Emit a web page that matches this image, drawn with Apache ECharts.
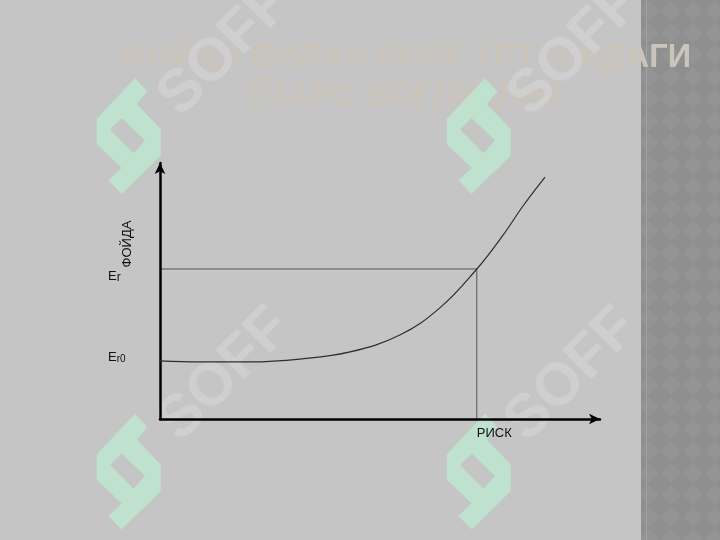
<!DOCTYPE html>
<html><head><meta charset="utf-8">
<script src="https://cdn.jsdelivr.net/npm/echarts@6/dist/echarts.min.js"></script>
<style>html,body{margin:0;padding:0;background:#c5c5c5}#c{width:720px;height:540px}</style>
</head><body><div id="c"></div>
<script>
const titleLines = ['ФОЙДА БИЛАН РИСК ЎРТАСИДАГИ', 'ЎЗАРО БОҒЛИҚЛИК'];
const riskX   = [0, 9.1, 20.5, 31.8, 43.2, 54.5, 63.6, 72.0, 78.0, 82.5, 87.5];
const profitY = [22.7, 22.3, 22.3, 23.4, 26.2, 32.8, 43.4, 58.6, 71.9, 83.2, 94.5];
const refRisk = 72.0;
const refProfit = 58.6;
const baseProfit = 22.7;
const xAxisLabel = 'РИСК';
const yAxisLabel = 'ФОЙДА';
const watermarkText = 'SOFF';

const FONT = 'Liberation Sans, Arial, sans-serif';

// pattern for right strip
const pc = document.createElement('canvas');
pc.width = 22; pc.height = 22;
const g = pc.getContext('2d');
g.fillStyle = '#8f8f8f'; g.fillRect(0, 0, 22, 22);
g.fillStyle = '#949494';
g.beginPath(); g.moveTo(11, 1); g.lineTo(21, 11); g.lineTo(11, 21); g.lineTo(1, 11); g.closePath(); g.fill();

// logo outline (relative)
const logoOuter = [[38.3,0],[50.7,13.3],[40,25.7],[64,50.7],[64,77.3],[51.7,89.7],[38.3,102.3],[25,115.7],[11.7,102.3],[25,89.7],[0,65.7],[0,40.7],[25,14]];
const logoHole = [[25,39.7],[48.3,62.3],[36.7,75],[13.3,51.3]];
function logo(x0, y0) {
  return [
    {type:'polygon', z:2, shape:{points: logoOuter.map(p => [p[0]+x0, p[1]+y0])}, style:{fill:'#bfe2cf'}},
    {type:'polygon', z:2, shape:{points: logoHole.map(p => [p[0]+x0, p[1]+y0])}, style:{fill:'#c5c5c5'}}
  ];
}
function soff(cx, cy) {
  return {type:'text', z:2, x:cx, y:cy, rotation: Math.PI/4,
    style:{text: watermarkText, font:'bold 60px ' + FONT, fill:'#cfcfcf', align:'center', verticalAlign:'middle'}};
}

const graphics = [
  {type:'rect', z:0, shape:{x:641, y:0, width:79, height:540}, style:{fill:{image: pc, repeat:'repeat'}}},
  {type:'rect', z:0, shape:{x:646, y:0, width:1, height:540}, style:{fill:'#a2a2a2'}},
  {type:'text', z:1, x:405, y:58, style:{text: titleLines[0], font:'bold 32.5px ' + FONT, fill:'#cbc4ba', align:'center', verticalAlign:'middle'}},
  {type:'text', z:1, x:405, y:97, style:{text: titleLines[1], font:'bold 32.5px ' + FONT, fill:'#cbc4ba', align:'center', verticalAlign:'middle'}},
  soff(225, 50), soff(575, 50), soff(225, 375), soff(572, 375),
  ...logo(96.7, 78.3), ...logo(446.7, 78.3), ...logo(96.7, 413.7), ...logo(446.7, 413.7),
  {type:'text', z:12, x:127, y:244, rotation: Math.PI/2,
    style:{text: yAxisLabel, font:'13px ' + FONT, fill:'#111', align:'center', verticalAlign:'middle'}}
];

// label anchor values (labels sit slightly off their guide lines, as in the reference)
const yLabelValues = [baseProfit + 1.2, refProfit - 3.1];

const chart = echarts.init(document.getElementById('c'), null, {renderer:'canvas'});
chart.setOption({
  backgroundColor: '#c5c5c5',
  animation: false,
  graphic: graphics,
  grid: {left:160, right:120, top:163, bottom:121, containLabel:false, outerBoundsMode:'none'},
  xAxis: {
    type:'value', min:0, max:100, z:10,
    axisLine:{show:true, symbol:['none','arrow'], symbolSize:[8,11], lineStyle:{color:'#000', width:2.5}},
    axisTick:{show:false}, splitLine:{show:false},
    axisLabel:{customValues:[refRisk], formatter: () => xAxisLabel, align:'left', margin:8,
      color:'#111', fontSize:13, fontFamily: FONT}
  },
  yAxis: {
    type:'value', min:0, max:100, z:10,
    axisLine:{show:true, symbol:['none','arrow'], symbolSize:[8,11], lineStyle:{color:'#000', width:2.5}},
    axisTick:{show:false}, splitLine:{show:false},
    axisLabel:{customValues: yLabelValues, align:'left', margin:52,
      formatter: v => (v < 40 ? '{e|E}{s0|r0}' : '{e|E}{s|r}'),
      rich:{
        e:{fontSize:13, fontFamily:FONT, color:'#111', verticalAlign:'bottom'},
        s:{fontSize:12, fontFamily:FONT, color:'#111', verticalAlign:'bottom'},
        s0:{fontSize:10, fontFamily:FONT, color:'#111', verticalAlign:'bottom'}
      }}
  },
  series: [
    {type:'line', z:10, data: riskX.map((x,i) => [x, profitY[i]]), smooth:0.4, showSymbol:false,
      lineStyle:{color:'#2e2e2e', width:1.2}},
    {type:'line', z:9, data: [[0, refProfit],[refRisk, refProfit],[refRisk, 0]], showSymbol:false,
      lineStyle:{color:'#555', width:1}}
  ]
});
</script></body></html>
